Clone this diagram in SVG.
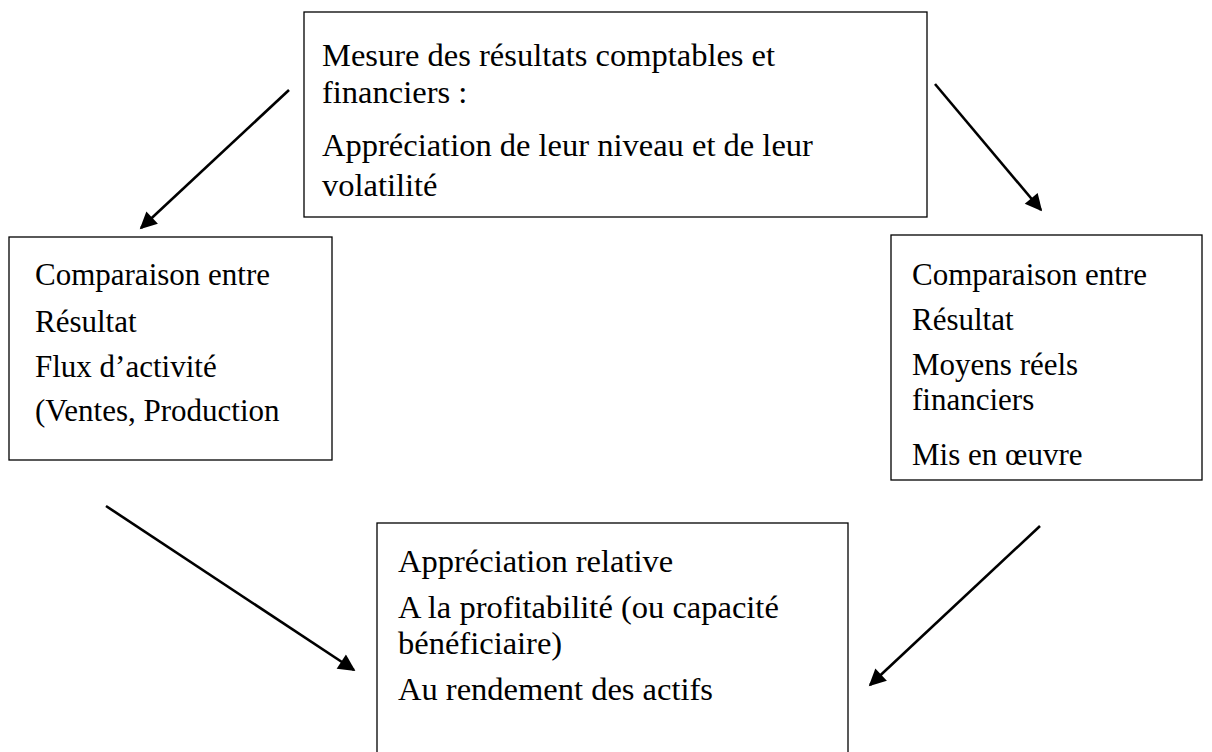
<svg xmlns="http://www.w3.org/2000/svg" width="1212" height="752" viewBox="0 0 1212 752">
<defs>
<style>
.box{fill:#fff;stroke:#000;stroke-width:1.3}
.t{font-family:"Liberation Serif","Times New Roman",serif;font-size:31px;fill:#000}
.big{font-size:32.5px}
.c{stroke:#000;stroke-width:2.6;fill:none;marker-end:url(#ah)}
</style>
<marker id="ah" viewBox="0 0 10 10" refX="9" refY="5" markerWidth="7.5" markerHeight="6.5" markerUnits="strokeWidth" orient="auto">
<path d="M0,0 L10,5 L0,10 Z" fill="#000"/>
</marker>
</defs>
<rect width="1212" height="752" fill="#fff"/>
<g id="connectors">
<line class="c" x1="289" y1="90" x2="141" y2="228"/>
<line class="c" x1="935" y1="84" x2="1041" y2="210"/>
<line class="c" x1="106" y1="506" x2="354" y2="670"/>
<line class="c" x1="1040" y1="526" x2="870" y2="685"/>
</g>
<g id="top">
<rect class="box" x="304" y="12" width="623" height="205"/>
<text class="t big" x="322" y="66">Mesure des résultats comptables et</text>
<text class="t big" x="322" y="103">financiers :</text>
<text class="t big" x="322" y="156">Appréciation de leur niveau et de leur</text>
<text class="t big" x="322" y="196">volatilité</text>
</g>
<g id="left">
<rect class="box" x="9" y="237" width="323" height="223"/>
<text class="t" x="35" y="285">Comparaison entre</text>
<text class="t" x="35" y="332">Résultat</text>
<text class="t" x="35" y="377">Flux d’activité</text>
<text class="t" x="35" y="421">(Ventes, Production</text>
</g>
<g id="right">
<rect class="box" x="891" y="235" width="311" height="245"/>
<text class="t" x="912" y="285">Comparaison entre</text>
<text class="t" x="912" y="330">Résultat</text>
<text class="t" x="912" y="375">Moyens réels</text>
<text class="t" x="912" y="410">financiers</text>
<text class="t" x="912" y="465">Mis en œuvre</text>
</g>
<g id="bottom">
<rect class="box" x="377" y="523" width="471" height="240"/>
<text class="t big" x="398" y="572">Appréciation relative</text>
<text class="t big" x="398" y="618">A la profitabilité (ou capacité</text>
<text class="t big" x="398" y="654">bénéficiaire)</text>
<text class="t big" x="398" y="700">Au rendement des actifs</text>
</g>
</svg>
